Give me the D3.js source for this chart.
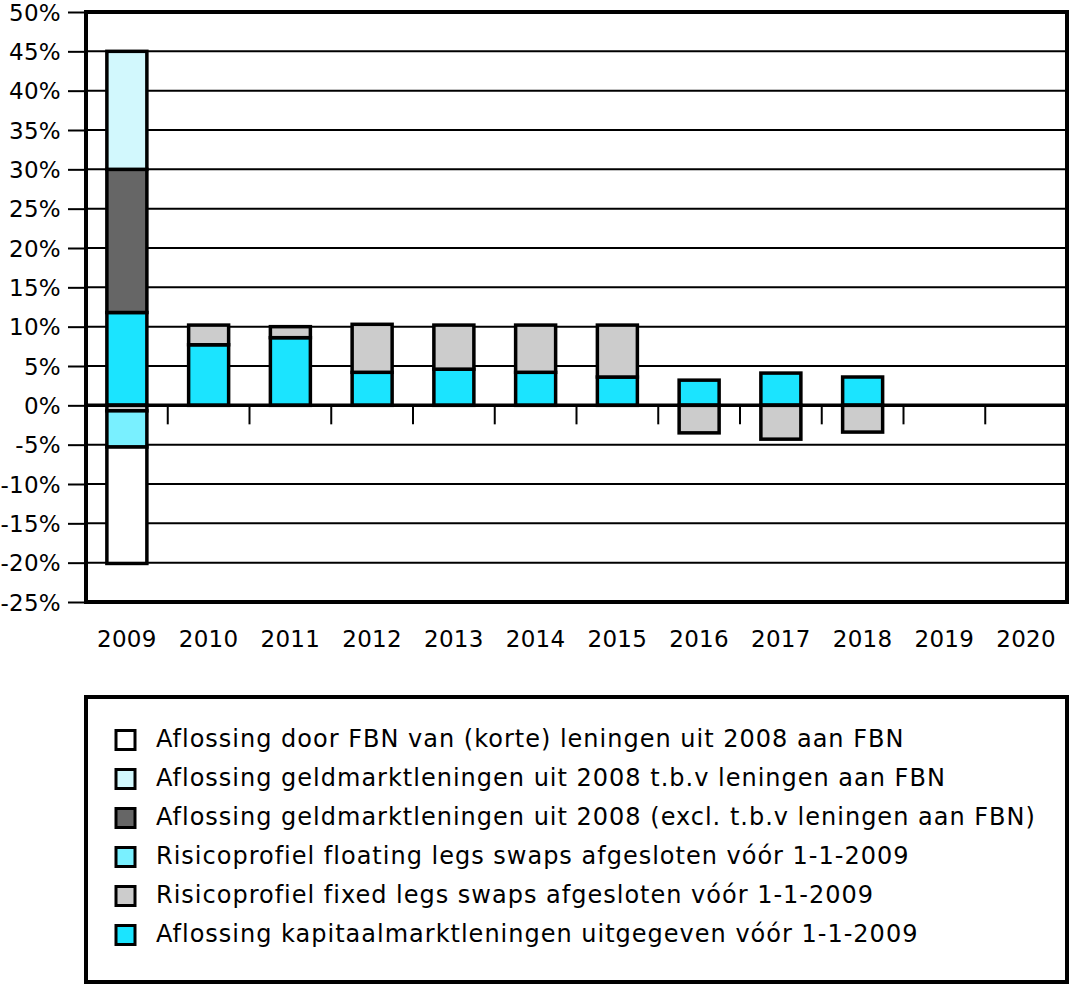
<!DOCTYPE html>
<html><head><meta charset="utf-8">
<script src="https://cdn.jsdelivr.net/npm/d3@7"></script>
<style>body{margin:0;background:#fff}svg{display:block}text{font-family:"DejaVu Sans",sans-serif;fill:#000}</style>
</head><body><svg id="c" width="1072" height="987"></svg>
<script>
const years = ["2009","2010","2011","2012","2013","2014","2015","2016","2017","2018","2019","2020"];
const kapitaal = [11.8, 7.7, 8.6, 4.2, 4.6, 4.2, 3.6, 3.2, 4.1, 3.6, 0, 0];
const fixedLegs = [-0.7, 2.5, 1.4, 6.1, 5.6, 6.0, 6.6, -3.5, -4.3, -3.4, 0, 0];
const floatingLegs = [-4.6, 0, 0, 0, 0, 0, 0, 0, 0, 0, 0, 0];
const geldExcl = [18.2, 0, 0, 0, 0, 0, 0, 0, 0, 0, 0, 0];
const geldFBN = [15.0, 0, 0, 0, 0, 0, 0, 0, 0, 0, 0, 0];
const fbnKort = [-14.8, 0, 0, 0, 0, 0, 0, 0, 0, 0, 0, 0];
const yTicks = [50,45,40,35,30,25,20,15,10,5,0,-5,-10,-15,-20,-25];

const seriesDefs = [
  {key:"kap", name:"Aflossing kapitaalmarktleningen uitgegeven vóór 1-1-2009", values:kapitaal, color:"#1be4ff"},
  {key:"fix", name:"Risicoprofiel fixed legs swaps afgesloten vóór 1-1-2009", values:fixedLegs, color:"#cccccc"},
  {key:"flo", name:"Risicoprofiel floating legs swaps afgesloten vóór 1-1-2009", values:floatingLegs, color:"#79f0ff"},
  {key:"gex", name:"Aflossing geldmarktleningen uit 2008 (excl. t.b.v leningen aan FBN)", values:geldExcl, color:"#666666"},
  {key:"gfb", name:"Aflossing geldmarktleningen uit 2008 t.b.v leningen aan FBN", values:geldFBN, color:"#d2f8fd"},
  {key:"fbn", name:"Aflossing door FBN van (korte) leningen uit 2008 aan FBN", values:fbnKort, color:"#ffffff"}
];
const legendOrder = ["fbn","gfb","gex","flo","fix","kap"];

const svg = d3.select("#c");
const L = 86, R = 1067, T = 12, B = 602;
const x = d3.scaleBand().domain(years).range([L, R]).paddingInner(0).paddingOuter(0);
const y = d3.scaleLinear().domain([-25, 50]).range([B, T]);

// gridlines
svg.append("g").selectAll("line").data(yTicks).join("line")
  .attr("x1", L).attr("x2", R).attr("y1", d=>y(d)).attr("y2", d=>y(d))
  .attr("stroke", "#000").attr("stroke-width", 2);

// y axis
const yAxis = d3.axisLeft(y).tickValues(yTicks).tickSize(18).tickPadding(6).tickFormat(d=>d+"%");
const gy = svg.append("g").attr("transform", `translate(${L},0)`).call(yAxis);
gy.select(".domain").remove();
gy.selectAll(".tick line").attr("stroke","#000").attr("stroke-width",2);
gy.selectAll(".tick text").attr("font-size", 23).attr("letter-spacing", 0.3).attr("dy","0.36em").attr("x",-25);

// stacked data
const table = years.map((yr,i)=>{const o={year:yr}; seriesDefs.forEach(s=>o[s.key]=s.values[i]); return o;});
const stack = d3.stack().keys(seriesDefs.map(s=>s.key)).offset(d3.stackOffsetDiverging);
const stacked = stack(table);
const bw = 40;
stacked.forEach((layer, li)=>{
  svg.append("g").selectAll("rect").data(layer.filter(d=>d[1]!==d[0])).join("rect")
    .attr("x", d=>x(d.data.year)+x.bandwidth()/2-bw/2)
    .attr("width", bw)
    .attr("y", d=>y(Math.max(d[0],d[1])))
    .attr("height", d=>Math.abs(y(d[0])-y(d[1])))
    .attr("fill", seriesDefs[li].color)
    .attr("stroke", "#000").attr("stroke-width", 3.5);
});

// zero axis with ticks at category boundaries
svg.append("line").attr("x1",L).attr("x2",R).attr("y1",y(0)).attr("y2",y(0)).attr("stroke","#000").attr("stroke-width",3.5);
svg.append("g").selectAll("line").data(years.slice(1)).join("line")
  .attr("x1", d=>x(d)).attr("x2", d=>x(d)).attr("y1", y(0)).attr("y2", y(0)+19)
  .attr("stroke","#000").attr("stroke-width",2);

// frame
svg.append("rect").attr("x",L).attr("y",T).attr("width",R-L).attr("height",B-T)
  .attr("fill","none").attr("stroke","#000").attr("stroke-width",4);

// x labels
svg.append("g").selectAll("text").data(years).join("text")
  .attr("x", d=>x(d)+x.bandwidth()/2).attr("y", 647).attr("text-anchor","middle")
  .attr("font-size", 23).attr("letter-spacing", 0.3).text(d=>d);

// legend
svg.append("rect").attr("x",86).attr("y",697).attr("width",981).attr("height",285)
  .attr("fill","#fff").attr("stroke","#000").attr("stroke-width",4);
const lg = svg.append("g").selectAll("g").data(legendOrder.map(k=>seriesDefs.find(s=>s.key===k))).join("g")
  .attr("transform",(d,i)=>`translate(0,${740+i*39})`);
lg.append("rect").attr("x",116).attr("y",-9.5).attr("width",19).attr("height",19)
  .attr("fill",d=>d.color).attr("stroke","#000").attr("stroke-width",3);
lg.append("text").attr("x",156).attr("y",-2).attr("dy","0.36em").attr("font-size",24).attr("letter-spacing", 1.0).text(d=>d.name);
</script></body></html>
